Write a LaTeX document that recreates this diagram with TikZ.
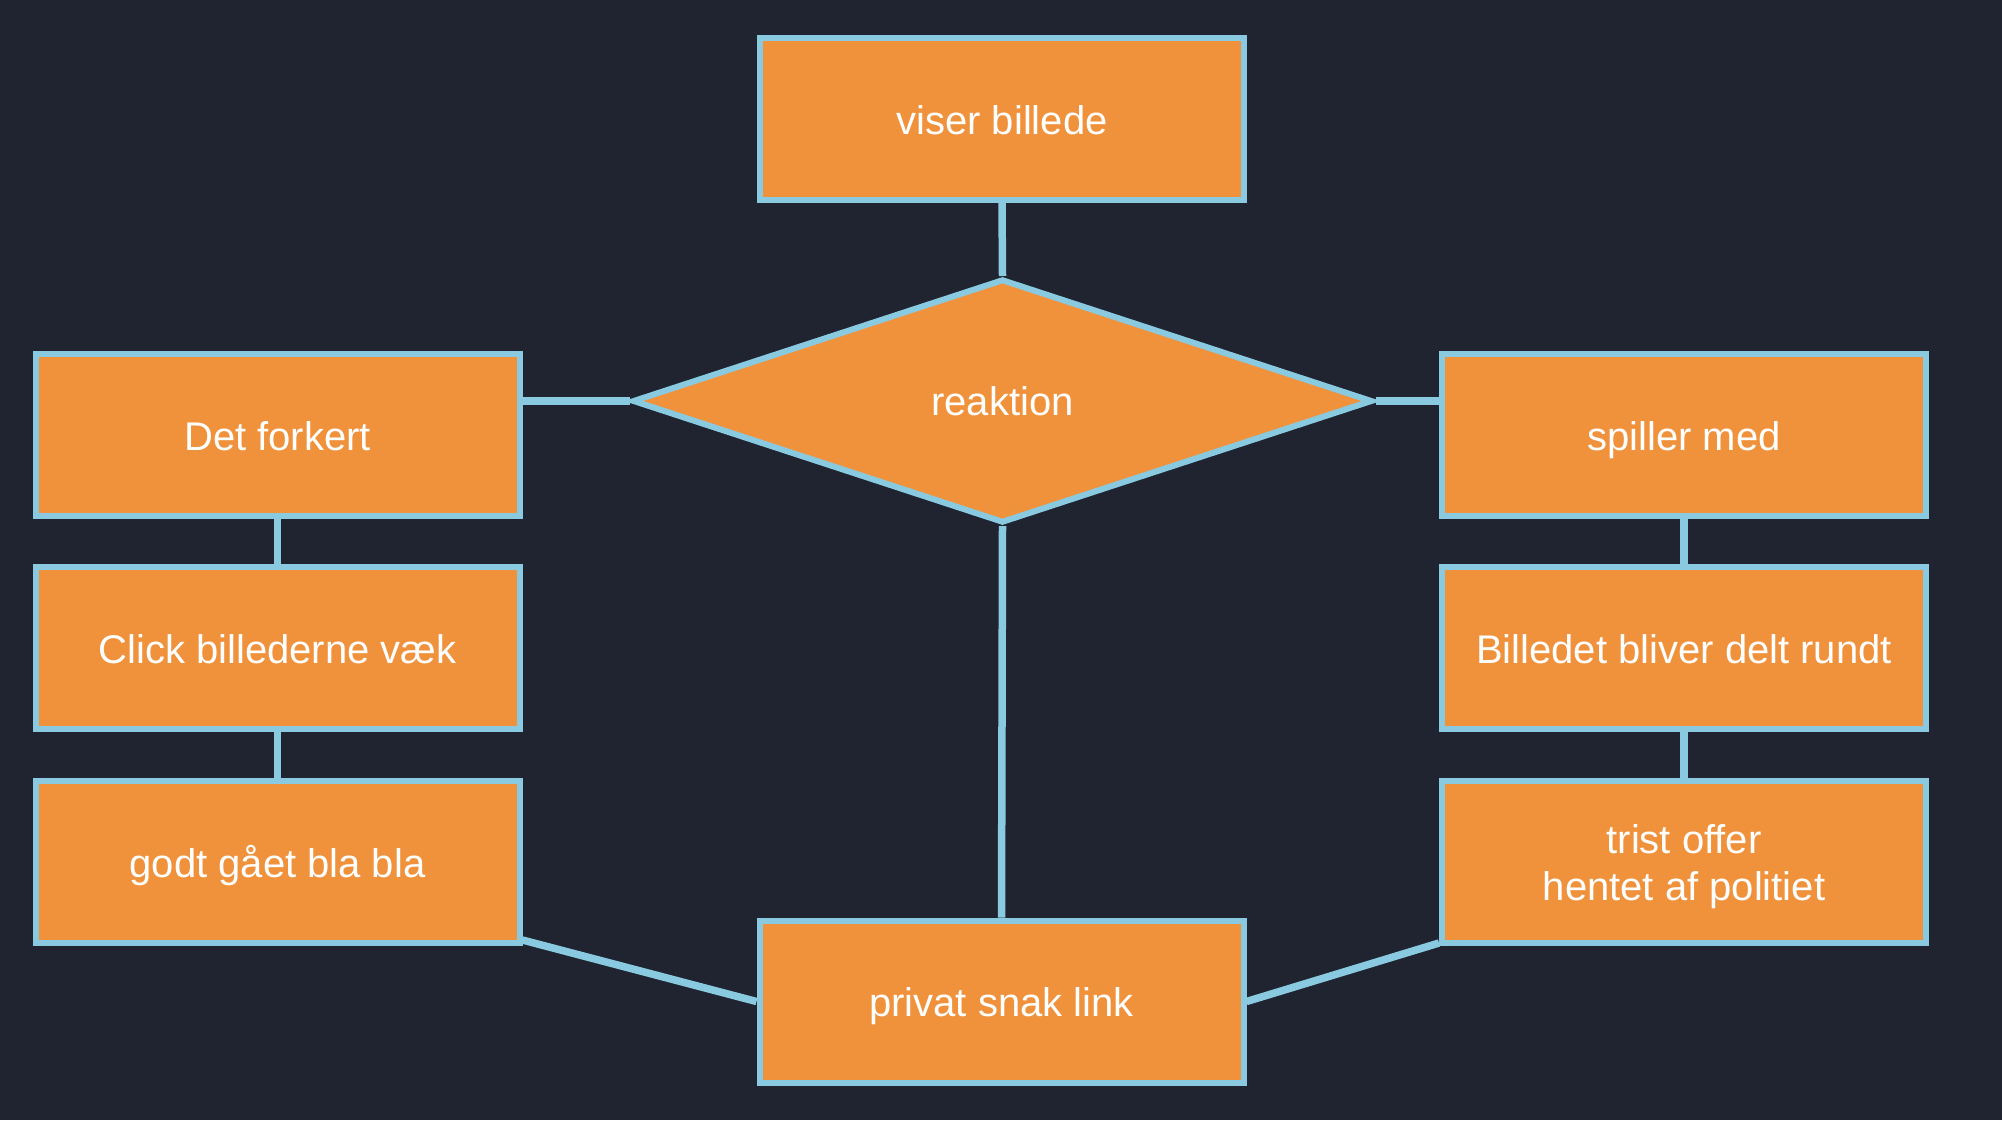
\documentclass[tikz,border=0pt]{standalone}
\usepackage{fontspec}
\setmainfont{Liberation Sans}
\usetikzlibrary{shapes.geometric,calc}
\definecolor{bgc}{RGB}{31,36,48}
\definecolor{boxfill}{RGB}{240,146,60}
\definecolor{edgec}{RGB}{137,202,225}
\begin{document}
\begin{tikzpicture}[x=1pt,y=-1pt,
  box/.style={draw=edgec,fill=boxfill,line width=6pt,rectangle,minimum width=484pt,minimum height=162pt,inner sep=0pt,text=white,align=center,font=\fontsize{40}{47}\selectfont,text height=34pt,text depth=4pt},
  twoline/.style={text height=80pt,text depth=4pt},
  decision/.style={draw=edgec,fill=boxfill,line width=6pt,diamond,minimum width=740pt,minimum height=244pt,inner sep=0pt,text=white,font=\fontsize{40}{47}\selectfont,text height=34pt,text depth=6pt},
  link/.style={draw=edgec,line width=7.5pt}]
\fill[bgc] (0,0) rectangle (2002,1120);
\useasboundingbox (0,0) rectangle (2002,1120);
\node[box] (viser) at (1002,119) {viser billede};
\node[decision] (dia) at (1002.5,401) {reaktion};
\node[box] (det) at (277.5,435) {Det forkert};
\node[box] (click) at (277.5,648) {Click billederne væk};
\node[box] (godt) at (277.5,862) {godt gået bla bla};
\node[box] (spil) at (1684,435) {spiller med};
\node[box] (bil) at (1684,648) {Billedet bliver delt rundt};
\node[box,twoline] (trist) at (1684,862) {trist offer\\hentet af politiet};
\node[box] (privat) at (1001.5,1001.5) {privat snak link};
\draw[link] (viser.south) -- (dia.north);
\draw[link] (dia.west) -- (dia.west -| det.east);
\draw[link] (dia.east) -- (dia.east -| spil.west);
\draw[link] (det.south) -- (click.north);
\draw[link] (click.south) -- (godt.north);
\draw[link] (spil.south) -- (bil.north);
\draw[link] (bil.south) -- (trist.north);
\draw[link] (dia.south) -- (privat.north);
\draw[link] ([yshift=6pt]godt.south east) -- (privat.west);
\draw[link] (privat.east) -- ([yshift=3pt]trist.south west);
\end{tikzpicture}
\end{document}
